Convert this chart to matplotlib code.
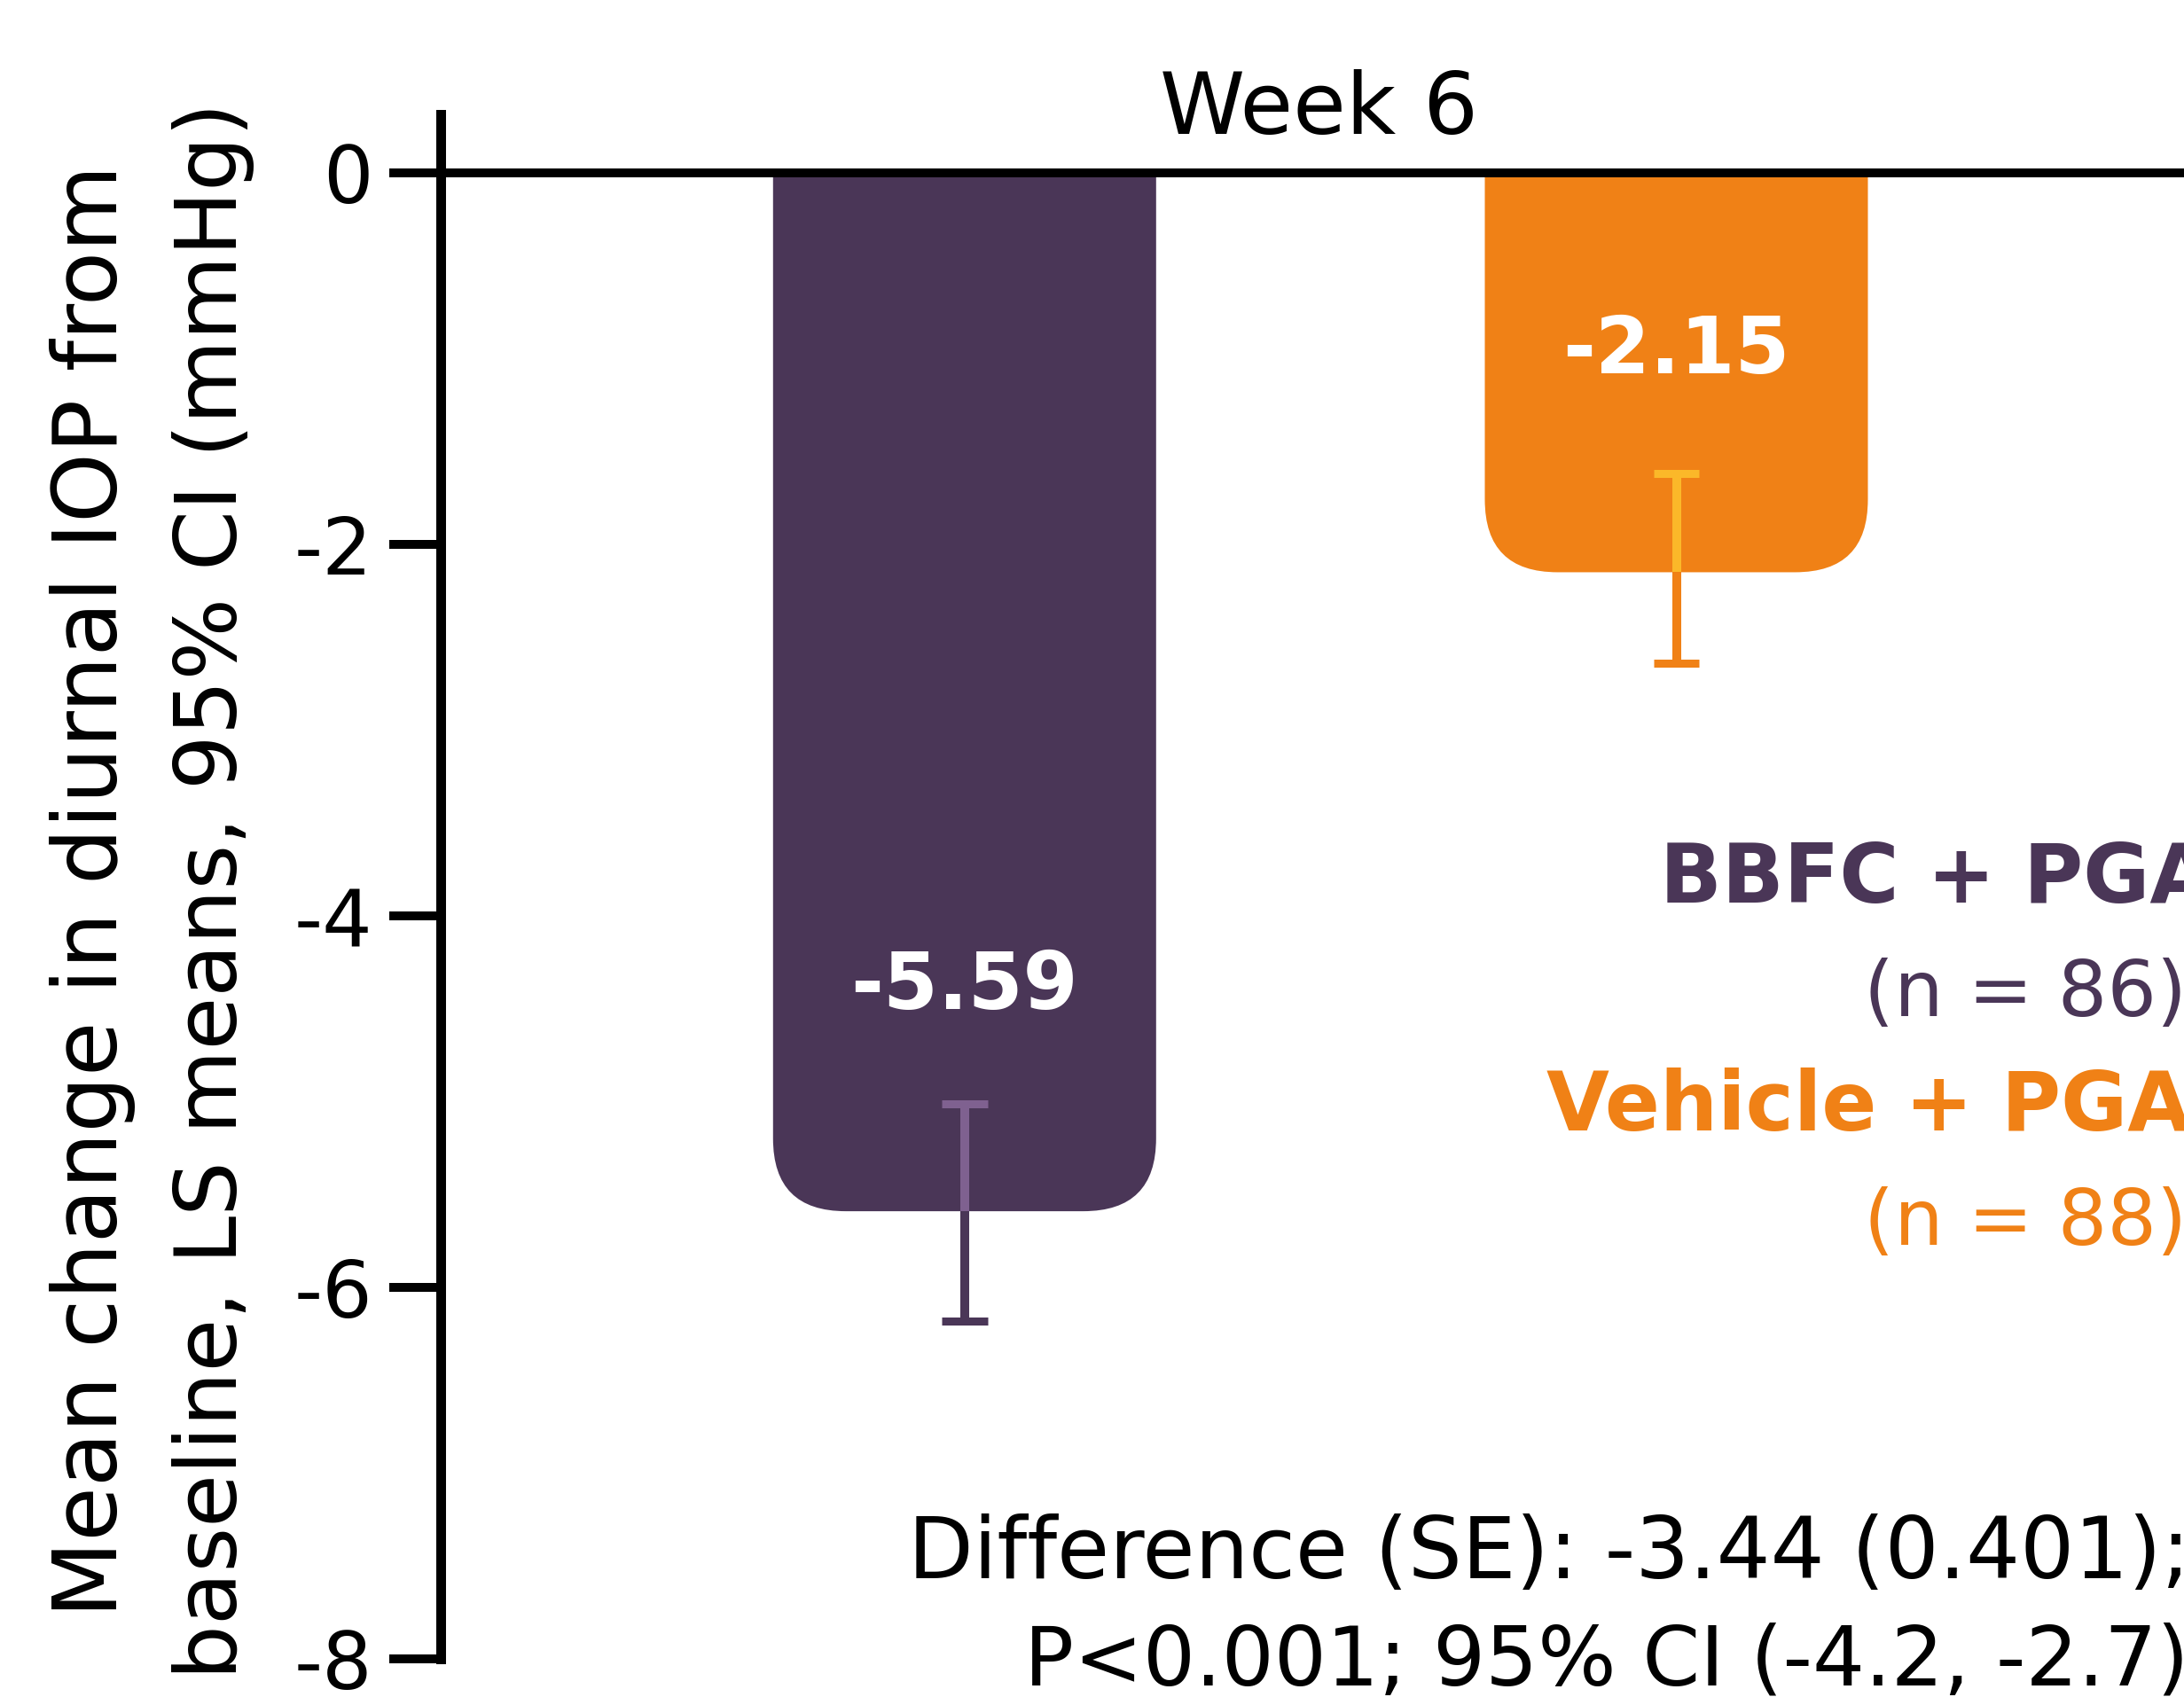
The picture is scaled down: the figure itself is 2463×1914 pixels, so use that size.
import matplotlib
matplotlib.use("Agg")
import matplotlib.pyplot as plt
from matplotlib.patches import FancyBboxPatch, Rectangle

plt.rcParams['font.family'] = ['DejaVu Sans']
plt.rcParams['axes.unicode_minus'] = False

# 数据
groups = ['BBFC + PGA', 'Vehicle + PGA']
group_n = ['(n = 86)', '(n = 88)']
ls_means = [-5.59, -2.15]
ci_low = [-6.18, -2.64]
ci_high = [-5.01, -1.62]
value_labels = ['-5.59', '-2.15']
yticks = [0, -2, -4, -6, -8]
ytick_labels = ['0', '-2', '-4', '-6', '-8']
timepoint = 'Week 6'
ylabel_lines = ['Mean change in diurnal IOP from',
                'baseline, LS means, 95% CI (mmHg)']
diff_lines = ['Difference (SE): -3.44 (0.401);',
              'P<0.001; 95% CI (-4.2, -2.7)']

bar_colors = ['#4a3657', '#f08116']
err_light = ['#7f6190', '#fbb829']

W, H = 2463, 1914
fig = plt.figure(figsize=(W / 100, H / 100), dpi=100)


def fx(x):
    return x / W


def fy(y_top):
    return (H - y_top) / H


# 坐标轴位置（像素）
ax_left, ax_right = 497, W
ax_top, ax_bot = 129, 1871
ax = fig.add_axes([fx(ax_left), fy(ax_bot), fx(ax_right - ax_left), (ax_bot - ax_top) / H])

px_per_y = (ax_bot - 195) / 8.0
ax.set_ylim(-8, (195 - ax_top) / px_per_y)
px_per_x = 802.7
x_left = -(1087.8 - ax_left) / px_per_x
ax.set_xlim(x_left, x_left + (ax_right - ax_left) / px_per_x)

xpos = list(range(len(groups)))
bar_w = 432 / px_per_x
radius = 82 / px_per_x
aspect = px_per_x / px_per_y

# 圆角柱（只保留底部圆角）
clip = Rectangle((x_left, -8), 10, 8, transform=ax.transData)
for i, x in enumerate(xpos):
    patch = FancyBboxPatch((x - bar_w / 2, ls_means[i]), bar_w, -ls_means[i] + 0.4,
                           boxstyle=f"round,pad=0,rounding_size={radius}",
                           mutation_aspect=aspect, facecolor=bar_colors[i],
                           edgecolor='none', zorder=2)
    ax.add_patch(patch)
    patch.set_clip_path(clip)

# 误差线
cap_half = 26 / px_per_x
for i, x in enumerate(xpos):
    ax.plot([x, x], [ci_high[i], ls_means[i]], color=err_light[i], lw=7.2,
            solid_capstyle='butt', zorder=3)
    ax.plot([x, x], [ls_means[i], ci_low[i]], color=bar_colors[i], lw=7.2,
            solid_capstyle='butt', zorder=3)
    ax.plot([x - cap_half, x + cap_half], [ci_high[i]] * 2, color=err_light[i], lw=6.5,
            solid_capstyle='butt', zorder=3)
    ax.plot([x - cap_half, x + cap_half], [ci_low[i]] * 2, color=bar_colors[i], lw=6.5,
            solid_capstyle='butt', zorder=3)

# 柱内数值
label_y = [-4.50, -1.08]
for i, x in enumerate(xpos):
    ax.text(x, label_y[i], value_labels[i], color='white', fontsize=64,
            fontweight='bold', ha='center', va='baseline', zorder=4)

ax.axhline(0, color='black', lw=7.2, zorder=5)

for s in ['top', 'right', 'bottom']:
    ax.spines[s].set_visible(False)
ax.spines['left'].set_linewidth(7.9)
ax.set_xticks([])
ax.set_yticks(yticks)
ax.set_yticklabels(ytick_labels)
ax.tick_params(axis='y', direction='out', length=42, width=7.2, pad=13, labelsize=64)

# 标题
fig.text(fx(1488), fy(151), timepoint, fontsize=70, ha='center', va='baseline')

# y轴标题（两行）
for xb, line, fs in zip([132, 267], ylabel_lines, [72, 70]):
    fig.text(fx(xb), fy(1005), line, fontsize=fs, rotation=90, rotation_mode='anchor',
             ha='center', va='baseline')

# 图例文字
fig.text(fx(1872), fy(1018), groups[0], fontsize=66, fontweight='bold',
         color=bar_colors[0], ha='left', va='baseline')
fig.text(fx(2102), fy(1146), group_n[0], fontsize=63,
         color=bar_colors[0], ha='left', va='baseline')
fig.text(fx(1744), fy(1275), groups[1], fontsize=66, fontweight='bold',
         color=bar_colors[1], ha='left', va='baseline')
fig.text(fx(2102), fy(1404), group_n[1], fontsize=63,
         color=bar_colors[1], ha='left', va='baseline')

# 差值说明
for xs, yb, line, fs in zip([1024, 1155], [1780, 1901], diff_lines, [69, 67]):
    fig.text(fx(xs), fy(yb), line, fontsize=fs, ha='left', va='baseline')

fig.savefig('out.png', dpi=100)
